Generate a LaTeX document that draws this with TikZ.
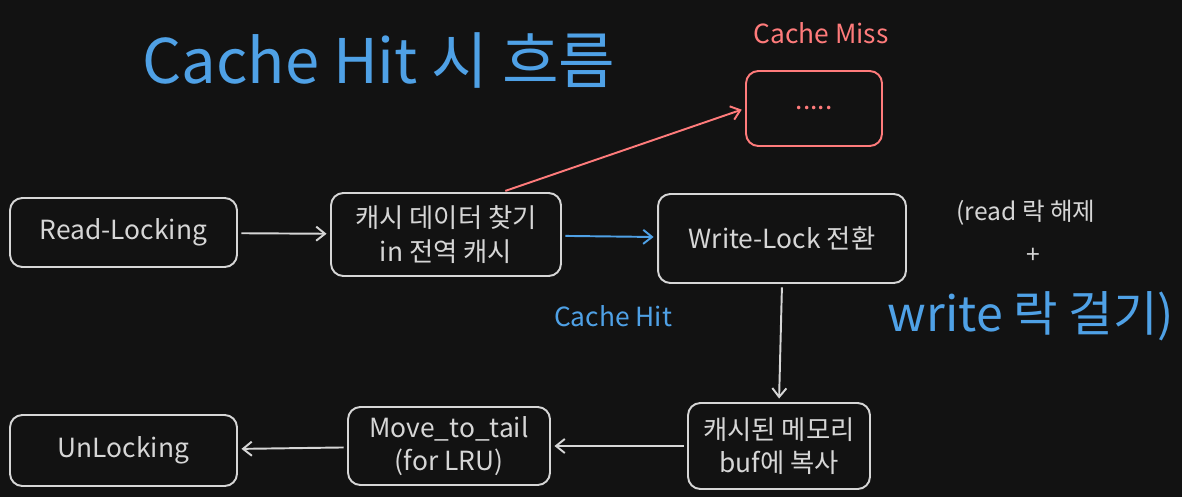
\documentclass[tikz,border=0pt]{standalone}
\usepackage{fontspec}
\setmainfont{Noto Sans CJK KR}
\usetikzlibrary{arrows.meta}
\definecolor{bgdark}{HTML}{121212}
\definecolor{boxline}{HTML}{D6D6D6}
\definecolor{misscol}{HTML}{FF7B7B}
\definecolor{hitcol}{HTML}{4FA1E6}

\begin{document}
\begin{tikzpicture}[x=0.02cm,y=-0.02cm,font=\fontsize{15}{19}\selectfont,
  stepbox/.style={draw=boxline,text=boxline,line width=1.1pt,rounded corners=7pt,align=center},
  flow/.style={-{Straight Barb[length=5pt,width=8pt]},line width=1.1pt,boxline,shorten >=2pt,shorten <=2pt}]
\fill[bgdark] (0,0) rectangle (1182,497);
\useasboundingbox (0,0) rectangle (1182,497);
\node[text=hitcol,font=\fontsize{35}{40}\selectfont] (title) at (379,61) {Cache Hit 시 흐름};
\node[text=misscol,font=\fontsize{15}{18}\selectfont] (misslbl) at (821,33) {Cache Miss};
\node[text=hitcol,font=\fontsize{15}{18}\selectfont] (hitlbl) at (613,316) {Cache Hit};
% boxes
\node[stepbox,minimum width=4.54cm,minimum height=1.38cm] (rl) at (123.5,232.5) {Read-Locking};
\node[stepbox,minimum width=4.6cm,minimum height=1.66cm] (find) at (446,234.5) {캐시 데이터 찾기\\in 전역 캐시};
\node[stepbox,minimum width=4.96cm,minimum height=1.78cm] (wlock) at (782,238.5) {Write-Lock 전환};
\node[stepbox,draw=misscol,text=misscol,minimum width=2.72cm,minimum height=1.5cm] (miss) at (814,108.5) {.....};
\node[stepbox,minimum width=3.64cm,minimum height=1.72cm] (copy) at (779,446) {캐시된 메모리\\buf에 복사};
\node[stepbox,minimum width=4.04cm,minimum height=1.56cm] (move) at (449,446) {Move\_to\_tail\\(for LRU)};
\node[stepbox,minimum width=4.54cm,minimum height=1.42cm] (unlock) at (123.5,450.5) {UnLocking};
% note on the right
\node[text=boxline,font=\fontsize{14}{17}\selectfont] (note1) at (1026,213) {(read 락 해제};
\node[text=boxline,font=\fontsize{14}{17}\selectfont] (note2) at (1033,256) {+};
\node[text=hitcol,font=\fontsize{27.5}{32}\selectfont] (note3) at (1031,316) {write 락 걸기)};
% arrows
\draw[flow] (rl) -- (find);
\draw[flow,hitcol] (find) -- (wlock);
\draw[flow,misscol] ([xshift=1.12cm]find.north) -- (miss.west);
\draw[flow] (wlock.south) -- (copy.north);
\draw[flow] (copy) -- (move);
\draw[flow] (move) -- (unlock);
\end{tikzpicture}
\end{document}
